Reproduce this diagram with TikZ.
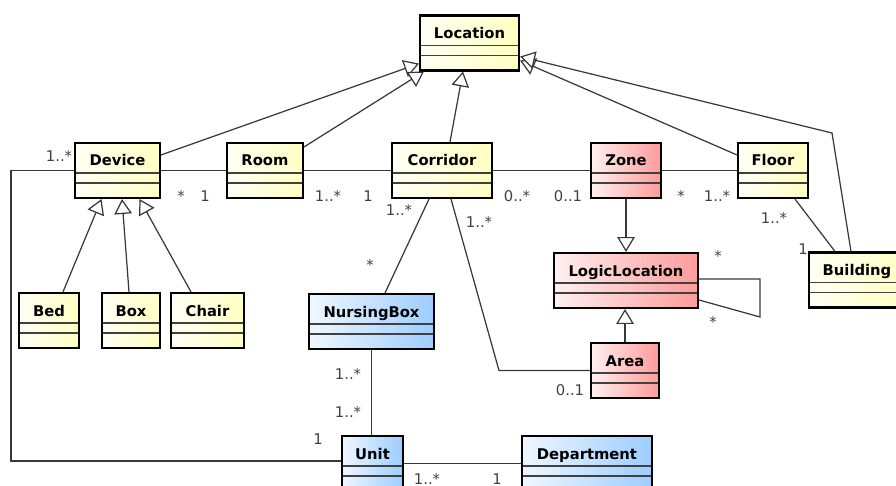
\documentclass[tikz,border=0pt]{standalone}
\usepackage{fontspec}
\setmainfont{DejaVu Sans}
\usepackage{tikz}
\usetikzlibrary{calc,arrows.meta}

\newcommand{\clsfont}{\fontsize{8.4}{10}\selectfont\bfseries}
\newcommand{\mulfont}{\fontsize{8.4}{10}\selectfont}

\definecolor{yelL}{HTML}{FFFFF4}
\definecolor{yelR}{HTML}{FFFFC2}
\definecolor{redL}{HTML}{FFF0F0}
\definecolor{redR}{HTML}{FF9A9A}
\definecolor{bluL}{HTML}{F0F7FF}
\definecolor{bluR}{HTML}{9CCDFF}

\tikzset{
  cls/.style={draw=black, line width=1.2pt, inner xsep=0pt, inner ysep=0pt,
    text height=0.46cm, text depth=0.64cm, minimum width=#1, font=\clsfont,
    path picture={
      \path[draw, black!75, line width=0.7pt]
        ($(path picture bounding box.north west)+(0,-0.6cm)$)to($(path picture bounding box.north east)+(0,-0.6cm)$)
        ($(path picture bounding box.north west)+(0,-0.8cm)$)to($(path picture bounding box.north east)+(0,-0.8cm)$);
    }},
  yel/.style={left color=yelL, right color=yelR},
  red/.style={left color=redL, right color=redR},
  blu/.style={left color=bluL, right color=bluR},
  assoc/.style={draw=black!78, line width=0.7pt},
  gen/.style={assoc, -{Triangle[length=8.5pt, width=10pt, fill=white]}},
  mul/.style={font=\mulfont, text=black!75, inner sep=0pt}
}

\begin{document}
\begin{tikzpicture}[x=0.02cm, y=-0.02cm]
    % frame
    \useasboundingbox(0,0)rectangle(896,486);
    \clip(0,0)rectangle(896,486);
    % classes
    \node[cls=1.98cm, yel](Location)at(469.5,43){Location};
    \node[cls=1.70cm, yel](Device)at(117.5,170.5){Device};
    \node[cls=1.52cm, yel](Room)at(265,170.5){Room};
    \node[cls=2.00cm, yel](Corridor)at(442,170.5){Corridor};
    \node[cls=1.40cm, red](Zone)at(626,170.5){Zone};
    \node[cls=1.40cm, yel](Floor)at(773,170.5){Floor};
    \node[cls=1.92cm, yel](Building)at(857,280){Building};
    \node[cls=2.88cm, red](LogicLocation)at(626,280.5){LogicLocation};
    \node[cls=1.36cm, red](Area)at(625,370.5){Area};
    \node[cls=1.20cm, yel](Bed)at(49,320.5){Bed};
    \node[cls=1.16cm, yel](Box)at(131,320.5){Box};
    \node[cls=1.46cm, yel](Chair)at(207.5,320.5){Chair};
    \node[cls=2.50cm, blu](NursingBox)at(371.5,321.5){NursingBox};
    \node[cls=1.22cm, blu](Unit)at(372.5,463.5){Unit};
    \node[cls=2.60cm, blu](Department)at(587,463.5){Department};
    % bends
    \coordinate(bldbend)at(832,133);
    \coordinate(areabend)at(499,370.5);
    \coordinate(devbend1)at(11,170.5);
    \coordinate(devbend2)at(11,461);
    % generalization to Location
    \path[gen]($(Device.north east)+(0,13)$)to($(Location.south west)+(0,-8)$);
    \path[gen]($(Room.north east)+(0,5)$)to($(Location.south west)+(5,0)$);
    \path[gen]($(Corridor.north)+(8,0)$)to($(Location.south)+(-6.5,0)$);
    \path[gen]($(Floor.north west)+(0,13)$)to($(Location.south east)+(0,-11)$);
    \path[gen]($(Building.north)+(-6,0)$)--(bldbend)--($(Location.south east)+(0,-15)$);
    % generalization to Device
    \path[gen]($(Bed.north)+(14,0)$)to($(Device.south)+(-16,0)$);
    \path[gen]($(Box.north)+(-2,0)$)to($(Device.south)+(4.5,0)$);
    \path[gen]($(Chair.north)+(-16.5,0)$)to($(Device.south)+(22,0)$);
    % generalization to LogicLocation
    \path[gen](Zone.south)to(LogicLocation.north);
    \path[gen](Area.north)to(Area.north |- LogicLocation.south);
    % associations
    \path[assoc](Device.east)to(Room.west);
    \path[assoc](Room.east)to(Corridor.west);
    \path[assoc](Corridor.east)to(Zone.west);
    \path[assoc](Zone.east)to(Floor.west);
    \path[assoc]($(Floor.south)+(22,0)$)to($(Building.north)+(-22,0)$);
    \path[assoc]($(Corridor.south)+(-13,0)$)to($(NursingBox.north)+(13.5,0)$);
    \path[assoc]($(Corridor.south)+(9,0)$)--(areabend)--(Area.west);
    \path[assoc]($(LogicLocation.east)+(0,-1.5)$)--++(61,0)--++(0,38)--($(LogicLocation.east)+(0,19.5)$);
    \path[assoc](NursingBox.south)to(NursingBox.south |- Unit.north);
    \path[assoc](Device.west)--(devbend1)--(devbend2)--(devbend2 -| Unit.west);
    \path[assoc](Unit.east)to(Department.west);
    % multiplicities
    \node[mul](mDevU)at(59,156){1..*};
    \node[mul](mDevR)at(181,196){*};
    \node[mul](mRoomD)at(205,196){1};
    \node[mul](mRoomC)at(328,196){1..*};
    \node[mul](mCorR)at(368,196){1};
    \node[mul](mCorZ)at(517,196){0..*};
    \node[mul](mZoneC)at(568,196){0..1};
    \node[mul](mZoneF)at(681,196){*};
    \node[mul](mFloorZ)at(717,196){1..*};
    \node[mul](mFloorB)at(774,218){1..*};
    \node[mul](mBldF)at(803,249){1};
    \node[mul](mCorN)at(399,210){1..*};
    \node[mul](mNurC)at(370,265){*};
    \node[mul](mCorA)at(479,222){1..*};
    \node[mul](mAreaC)at(570,390){0..1};
    \node[mul](mLogA)at(718,256){*};
    \node[mul](mLogB)at(713,322){*};
    \node[mul](mNurU)at(348,374){1..*};
    \node[mul](mUnitN)at(348,412){1..*};
    \node[mul](mUnitD)at(318,439){1};
    \node[mul](mUnitDep)at(427,479){1..*};
    \node[mul](mDepU)at(497,479){1};
\end{tikzpicture}
\end{document}
